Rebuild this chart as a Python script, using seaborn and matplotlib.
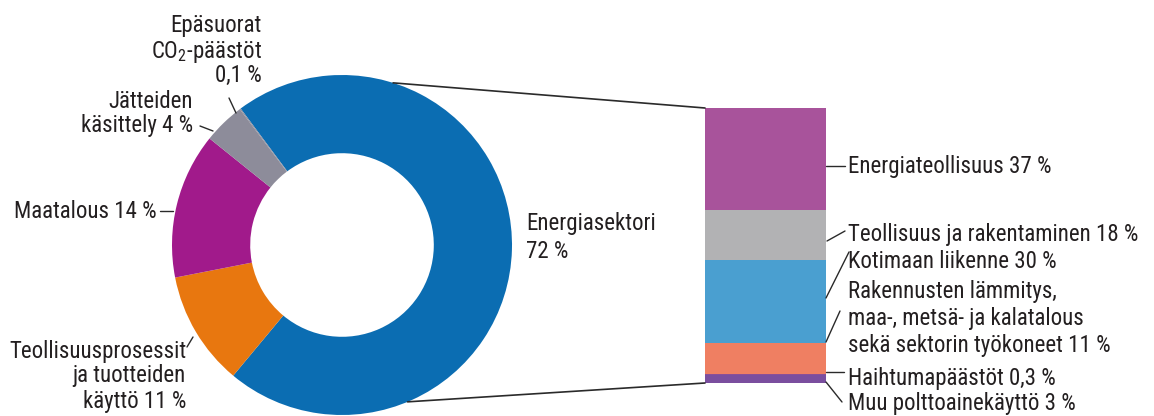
import matplotlib
matplotlib.use("Agg")
import matplotlib.pyplot as plt
from matplotlib.lines import Line2D
from matplotlib.patches import ConnectionPatch
import numpy as np
import seaborn as sns

# Greenhouse gas emissions by sector (%), donut
sector_labels = ["Energiasektori", "Teollisuusprosessit ja tuotteiden käyttö",
                 "Maatalous", "Jätteiden käsittely", "Epäsuorat CO2-päästöt"]
sector_values = [72, 11, 14, 4, 0.1]
sector_colors = ["#0b6db2", "#e8770f", "#a11a8b", "#8d8c9a", "#8d8c9a"]

# Breakdown of the energy sector (%), top to bottom in the stacked bar
energy_labels = ["Energiateollisuus", "Teollisuus ja rakentaminen",
                 "Kotimaan liikenne",
                 "Rakennusten lämmitys, maa-, metsä- ja kalatalous sekä sektorin työkoneet",
                 "Haihtumapäästöt", "Muu polttoainekäyttö"]
energy_values = [37, 18, 30, 11, 0.3, 3]
energy_colors = ["#a8539b", "#b2b2b4", "#4a9fd0", "#ef7f62", "#8a4f98", "#7a4e9e"]

W, H = 1154, 416
TXT = "#231f20"
FS = 16.5

sns.set_theme(style="white")
plt.rcParams["font.family"] = ["Roboto Condensed", "DejaVu Sans"]
plt.rcParams["mathtext.fontset"] = "custom"
plt.rcParams["mathtext.rm"] = "Roboto Condensed"
plt.rcParams["mathtext.it"] = "Roboto Condensed"

fig = plt.figure(figsize=(W / 100, H / 100), dpi=100)
fig.patch.set_facecolor("white")


def fpos(x, y):
    """Pixel position measured from the top-left corner -> figure fraction."""
    return x / W, 1 - y / H


# --- donut ------------------------------------------------------------------
cx, cy, R = 342, 245, 170
pax = fig.add_axes([(cx - R) / W, (H - cy - R) / H, 2 * R / W, 2 * R / H])
pax.pie(sector_values, colors=sector_colors, startangle=126.6, counterclock=False,
        radius=1.0, wedgeprops=dict(width=0.46, linewidth=0))
pax.set_xlim(-1, 1)
pax.set_ylim(-1, 1)
pax.set_aspect("equal")
pax.axis("off")

# --- stacked bar for the energy sector -----------------------------------------
bx0, bx1, by0, by1 = 705, 826, 108, 383
bax = fig.add_axes([bx0 / W, (H - by1) / H, (bx1 - bx0) / W, (by1 - by0) / H])
bottom = 0.0
for val, col in zip(energy_values[::-1], energy_colors[::-1]):
    sns.barplot(x=[0], y=[val], bottom=bottom, color=col, saturation=1,
                width=1.0, linewidth=0, ax=bax)
    bottom += val
total = sum(energy_values)
bax.set_xlim(-0.5, 0.5)
bax.set_ylim(0, total)
bax.axis("off")

# --- connector lines between the donut and the bar ----------------------------
for ang, yb in [(72.5, total), (-67.3, 0.0)]:
    t = np.deg2rad(ang)
    con = ConnectionPatch(xyA=(np.cos(t), np.sin(t)), coordsA=pax.transData,
                          xyB=(-0.5, yb), coordsB=bax.transData,
                          color="#2a2a2a", lw=1.2)
    fig.add_artist(con)


def text(x, baseline, s, ha="left", **kw):
    fx, fy = fpos(x, baseline)
    fig.text(fx, fy, s, ha=ha, va="baseline", fontsize=FS, color=TXT, **kw)


def leader(x0, y0, x1, y1):
    a, b = fpos(x0, y0)
    c, d = fpos(x1, y1)
    fig.add_artist(Line2D([a, c], [b, d], transform=fig.transFigure,
                          color="#2a2a2a", lw=1.0))


# donut labels
text(262, 32, "Epäsuorat", ha="right")
text(262, 58, r"CO$_2$-päästöt", ha="right")
text(262, 82, f"{sector_values[4]:.1f}".replace(".", ",") + " %", ha="right")
leader(229, 98, 236, 113)

text(193, 108, "Jätteiden", ha="right")
text(193, 132, f"käsittely {sector_values[3]} %", ha="right")
leader(200, 126, 213, 131)

text(157, 218, f"Maatalous {sector_values[2]} %", ha="right")
leader(160, 211, 173, 211)

text(186, 358, "Teollisuusprosessit", ha="right")
text(186, 382, "ja tuotteiden", ha="right")
text(186, 408, f"käyttö {sector_values[1]} %", ha="right")
leader(187, 347, 193, 337)

text(526, 230, "Energiasektori")
text(526, 258, f"{sector_values[0]} %")

# bar labels
lx = 848
text(lx, 173, f"Energiateollisuus {energy_values[0]} %")
leader(826, 166, 845, 166)

text(lx, 241, f"Teollisuus ja rakentaminen {energy_values[1]} %")
leader(827, 241, 845, 231)

text(lx, 268, f"Kotimaan liikenne {energy_values[2]} %")
leader(826, 298, 849, 252)

text(lx, 298, "Rakennusten lämmitys,")
text(lx, 325, "maa-, metsä- ja kalatalous")
text(lx, 352, f"sekä sektorin työkoneet {energy_values[3]} %")
leader(826, 342, 840, 311)

text(lx, 385, f"Haihtumapäästöt {energy_values[4]:.1f}".replace(".", ",") + " %")
leader(826, 372, 844, 372)

text(lx, 410, f"Muu polttoainekäyttö {energy_values[5]} %")
leader(826, 382, 842, 402)

fig.savefig("out.png", dpi=100, facecolor="white")
